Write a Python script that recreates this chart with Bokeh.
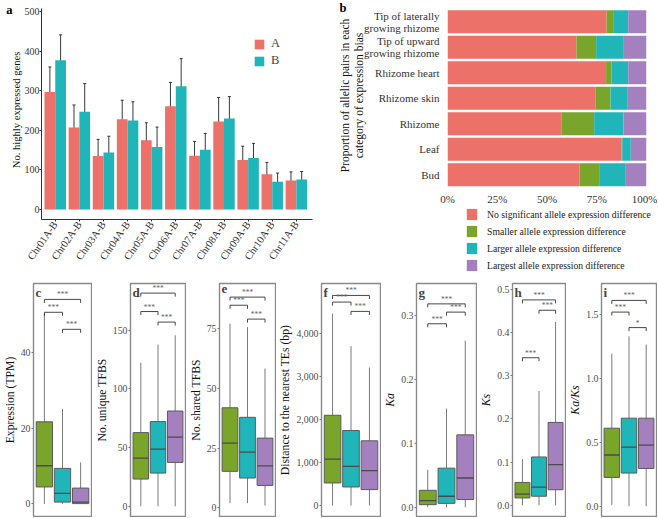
from bokeh.plotting import figure
from bokeh.models import (Range1d, FixedTicker, Legend, LegendItem, Label, LinearAxis,
                          NumeralTickFormatter, ColumnDataSource, Whisker, TeeHead)
from bokeh.transform import dodge
from bokeh.layouts import row, column
from bokeh.core.properties import value
from bokeh.embed import file_html
from bokeh.resources import INLINE

SERIF = "Liberation Serif"
RED, GREEN, TEAL, PURPLE = "#EC7169", "#78A52A", "#20B6B9", "#A580BE"

# ---------------- panel a data ----------------
chromosomes = ["Chr01A-B", "Chr02A-B", "Chr03A-B", "Chr04A-B", "Chr05A-B", "Chr06A-B",
               "Chr07A-B", "Chr08A-B", "Chr09A-B", "Chr10A-B", "Chr11A-B"]
genes_A = [297, 207, 135, 228, 175, 261, 136, 222, 125, 89, 73]
genes_A_low = [236, 150, 94, 180, 131, 200, 98, 162, 92, 59, 52]
genes_A_high = [360, 264, 177, 276, 219, 321, 172, 283, 160, 119, 95]
genes_B = [377, 247, 144, 225, 158, 311, 151, 230, 130, 70, 76]
genes_B_low = [311, 179, 103, 177, 110, 242, 108, 177, 94, 48, 56]
genes_B_high = [441, 318, 185, 272, 208, 381, 192, 285, 167, 92, 96]
a_yticks = [0, 100, 200, 300, 400, 500]

# ---------------- panel b data ----------------
tissues = ["Tip of laterally\ngrowing rhizome", "Tip of upward\ngrowing rhizome",
           "Rhizome heart", "Rhizome skin", "Rhizome", "Leaf", "Bud"]
no_sig = [79.9, 64.8, 79.7, 74.5, 57.2, 87.5, 66.4]
smaller = [3.7, 9.9, 2.7, 7.4, 16.5, 0.3, 9.8]
larger = [7.2, 13.9, 8.4, 8.7, 14.7, 4.3, 13.4]
largest = [9.2, 11.4, 9.2, 9.4, 11.6, 7.9, 10.4]
bias_names = ["No significant allele expression difference",
              "Smaller allele expression difference",
              "Larger allele expression difference",
              "Largest allele expression difference"]
b_xticks = [0, 0.25, 0.5, 0.75, 1.0]

# ---------------- panels c-i data (box statistics) ----------------
expr_stats = dict(low=[0, 0, 0], q1=[4.5, 0.5, 0.1], med=[10.1, 2.8, 0.5],
                  q3=[21.7, 9.4, 4.2], high=[50.3, 25.1, 11.0])
expr_sig = dict(y=[54.0, 50.6, 46.1], txt=["***", "***", "***"])
utfbs_stats = dict(low=[0, 0, 0], q1=[23.2, 28.3, 37.4], med=[41.0, 48.7, 58.9],
                   q3=[62.8, 72.2, 81.2], high=[122.5, 137.8, 145.8])
utfbs_sig = dict(y=[181.7, 166.0, 157.0], txt=["***", "***", "***"])
stfbs_stats = dict(low=[2, 2, 1], q1=[15.3, 12.5, 9.4], med=[27.1, 23.3, 17.6],
                   q3=[41.9, 37.9, 29.2], high=[77.1, 75.7, 58.3])
stfbs_sig = dict(y=[88.2, 84.8, 79.0], txt=["***", "***", "***"])
te_stats = dict(low=[0, 0, 0], q1=[525, 432, 371], med=[1081, 911, 811],
                q3=[2100, 1745, 1506], high=[4463, 3707, 3212])
te_sig = dict(y=[4888, 4734, 4517], txt=["***", "***", "***"])
ka_stats = dict(low=[0, 0, 0], q1=[0.0040, 0.0060, 0.0120], med=[0.0104, 0.0171, 0.0456],
                q3=[0.0264, 0.0610, 0.1130], high=[0.0585, 0.1540, 0.2600])
ka_sig = dict(y=[0.3176, 0.2865, 0.3047], txt=["***", "***", "***"])
ks_stats = dict(low=[0, 0, 0], q1=[0.017, 0.021, 0.036], med=[0.026, 0.042, 0.094],
                q3=[0.053, 0.112, 0.192], high=[0.107, 0.265, 0.425])
ks_sig = dict(y=[0.476, 0.342, 0.452], txt=["***", "***", "***"])
kaks_stats = dict(low=[0.01, 0, 0], q1=[0.225, 0.259, 0.295], med=[0.400, 0.461, 0.477],
                  q3=[0.609, 0.687, 0.687], high=[1.190, 1.326, 1.262])
kaks_sig = dict(y=[1.606, 1.515, 1.394], txt=["***", "***", "*"])
sig_pairs_x0 = [1, 1, 2]
sig_pairs_x1 = [3, 2, 3]


def base_fig(w, h, **kw):
    p = figure(width=w, height=h, output_backend="svg", toolbar_location=None, **kw)
    p.grid.visible = False
    p.background_fill_color = "white"
    p.border_fill_color = "white"
    return p


def no_minor(ax):
    ax.minor_tick_line_color = None
    ax.minor_tick_out = 0
    ax.minor_tick_in = 0


def letter_axis(tick, letter, size, standoff):
    ax = LinearAxis(ticker=FixedTicker(ticks=[tick]), major_label_overrides={tick: letter})
    ax.axis_line_color = None
    ax.major_tick_line_color = None
    ax.major_tick_out = 0
    ax.major_tick_in = 0
    no_minor(ax)
    ax.axis_label_standoff = 0
    ax.major_label_standoff = standoff
    ax.major_label_text_font = SERIF
    ax.major_label_text_font_style = "bold"
    ax.major_label_text_font_size = size
    ax.major_label_text_color = "black"
    return ax


# ================= panel a =================
pa = base_fig(330, 280, x_range=Range1d(0.43, 11.67), y_range=Range1d(-25.3, 527.8),
              min_border_left=41, min_border_right=18, min_border_top=0, min_border_bottom=61)
pa.outline_line_color = None
src_a = ColumnDataSource(dict(x=list(range(1, len(chromosomes) + 1)), A=genes_A, A_lo=genes_A_low,
                              A_hi=genes_A_high, B=genes_B, B_lo=genes_B_low, B_hi=genes_B_high))
ra = pa.vbar(x=dodge("x", -0.2225, range=pa.x_range), top="A", bottom=0, width=0.445,
             source=src_a, fill_color=RED, line_color=None)
rb = pa.vbar(x=dodge("x", 0.2225, range=pa.x_range), top="B", bottom=0, width=0.445,
             source=src_a, fill_color=TEAL, line_color=None)
for off, lo, hi in [(-0.2225, "A_lo", "A_hi"), (0.2225, "B_lo", "B_hi")]:
    w = Whisker(source=src_a, base=dodge("x", off, range=pa.x_range), lower=lo, upper=hi,
                line_color="#222222", line_width=0.9,
                upper_head=TeeHead(size=3, line_color="#222222", line_width=0.9),
                lower_head=TeeHead(size=3, line_color="#222222", line_width=0.9))
    pa.add_layout(w)
pa.xaxis.ticker = FixedTicker(ticks=list(range(1, len(chromosomes) + 1)))
pa.xaxis.major_label_overrides = {i + 1: c for i, c in enumerate(chromosomes)}
pa.xaxis.major_label_orientation = 0.96
pa.yaxis.ticker = FixedTicker(ticks=a_yticks)
pa.yaxis.bounds = (-25.3, 507)
pa.yaxis.axis_label = "No. highly expressed genes"
for ax in (pa.xaxis[0], pa.yaxis[0]):
    ax.axis_line_color = "#333333"
    ax.axis_line_width = 1
    ax.major_tick_line_color = "#333333"
    ax.major_tick_out = 2
    ax.major_tick_in = 0
    no_minor(ax)
    ax.major_label_text_font = SERIF
    ax.major_label_text_font_size = "10.5px"
    ax.major_label_text_color = "#333333"
    ax.major_label_standoff = 1
    ax.axis_label_text_font = SERIF
    ax.axis_label_text_font_size = "11px"
    ax.axis_label_text_font_style = "normal"
    ax.axis_label_text_color = "#111111"
    ax.axis_label_standoff = 2
pa.yaxis.major_label_text_font_size = "10px"
pa.yaxis.major_label_standoff = 0
pa.yaxis.axis_label_standoff = 0
pa.yaxis.axis_label_text_font_size = "10.6px"
pa.add_layout(letter_axis(515.4, "a", "12.5px", -5), "left")
leg_a = Legend(items=[LegendItem(label="A", renderers=[ra]), LegendItem(label="B", renderers=[rb])],
               location=(212, 151), glyph_width=12, glyph_height=12, label_height=12,
               spacing=2, padding=0, margin=0, label_standoff=6,
               label_text_font=SERIF, label_text_font_size="12.5px",
               border_line_color=None, background_fill_alpha=0)
pa.add_layout(leg_a)

# ================= panel b =================
totals = [a + b + c + d for a, b, c, d in zip(no_sig, smaller, larger, largest)]
src_b = ColumnDataSource(dict(
    y=[len(tissues) - i for i in range(len(tissues))],
    no_sig=[v / t for v, t in zip(no_sig, totals)],
    smaller=[v / t for v, t in zip(smaller, totals)],
    larger=[v / t for v, t in zip(larger, totals)],
    largest=[v / t for v, t in zip(largest, totals)]))
stack_cols = ["no_sig", "smaller", "larger", "largest"]
stack_colors = [RED, GREEN, TEAL, PURPLE]

pb = base_fig(327, 207, x_range=Range1d(0, 1), y_range=Range1d(0.383, 7.83),
              min_border_left=117, min_border_right=11, min_border_top=0, min_border_bottom=14)
pb.outline_line_color = None
pb.hbar_stack(stack_cols, y="y", height=0.9, color=stack_colors, line_color=None, source=src_b)
pb.xaxis.ticker = FixedTicker(ticks=b_xticks)
pb.xaxis.formatter = NumeralTickFormatter(format="0%")
pb.yaxis.ticker = FixedTicker(ticks=[len(tissues) - i for i in range(len(tissues))])
pb.yaxis.major_label_overrides = {len(tissues) - i: t for i, t in enumerate(tissues)}
pb.yaxis.axis_label = "Proportion of allelic pairs in each\ncategory of expression bias"
for ax in (pb.xaxis[0], pb.yaxis[0]):
    ax.axis_line_color = None
    ax.major_tick_line_color = None
    ax.major_tick_out = 0
    ax.major_tick_in = 0
    no_minor(ax)
    ax.major_label_text_font = SERIF
    ax.major_label_text_color = "#333333"
    ax.axis_label_text_font = SERIF
    ax.axis_label_text_font_size = "11.5px"
    ax.axis_label_text_font_style = "normal"
    ax.axis_label_text_color = "#111111"
    ax.axis_label_standoff = 0
    ax.axis_label_text_line_height = 1.2
pb.xaxis.major_label_text_font_size = "11px"
pb.xaxis.major_label_standoff = 2
pb.yaxis.major_label_text_font_size = "11px"
pb.yaxis.major_label_standoff = 8
pb.yaxis.axis_label_standoff = -4
pb.yaxis.major_label_text_line_height = 1.0
pb.add_layout(letter_axis(7.571, "b", "12.5px", -11), "left")

# legend of panel b (own canvas below the bars; same series, shown only as legend keys)
pleg = base_fig(327, 73, x_range=Range1d(0, 1), y_range=Range1d(10, 11),
                x_axis_location=None, y_axis_location=None,
                min_border_left=0, min_border_right=0, min_border_top=0, min_border_bottom=0)
pleg.outline_line_color = None
rs_leg = pleg.hbar_stack(stack_cols, y="y", height=0.9, color=stack_colors, line_color=None,
                         source=src_b)
leg_b = Legend(items=[LegendItem(label=n, renderers=[r]) for n, r in zip(bias_names, rs_leg)],
               location=(135, 8), glyph_width=13, glyph_height=14, label_height=14,
               spacing=3, padding=0, margin=0, label_standoff=9,
               label_text_font=SERIF, label_text_font_size="9.7px",
               label_text_color="#222222",
               border_line_color=None, background_fill_alpha=0)
pleg.add_layout(leg_b)


# ================= panels c-i =================
FONT_V = value(SERIF)


def box_panel(letter, width, left, stats, sig, ylim, ticks, fmt, ylabel, italic=False):
    p = base_fig(width, 237, x_range=Range1d(0.4, 3.6), y_range=Range1d(*ylim),
                 min_border_left=left, min_border_right=1, min_border_top=3, min_border_bottom=1)
    p.outline_line_color = "#8a8a8a"
    p.outline_line_width = 1.4
    src = ColumnDataSource(dict(x=[1, 2, 3], color=[GREEN, TEAL, PURPLE], **stats))
    p.segment(x0="x", y0="low", x1="x", y1="q1", source=src, line_color="#7a7a7a", line_width=1)
    p.segment(x0="x", y0="q3", x1="x", y1="high", source=src, line_color="#7a7a7a", line_width=1)
    p.vbar(x="x", bottom="q1", top="q3", width=0.9, source=src, fill_color="color",
           line_color="#5a5a5a", line_width=1)
    p.segment(x0=dodge("x", -0.45), y0="med", x1=dodge("x", 0.45), y1="med", source=src,
              line_color="#4a4a4a", line_width=1.3)
    span = ylim[1] - ylim[0]
    drop = 3.5 * span / 233
    xs, ys, tx, ty = [], [], [], []
    for x0, x1, yb in zip(sig_pairs_x0, sig_pairs_x1, sig["y"]):
        xs.append([x0, x0, x1, x1])
        ys.append([yb - drop, yb, yb, yb - drop])
        tx.append((x0 + x1) / 2)
        ty.append(yb)
    p.multi_line(xs=xs, ys=ys, line_color="#333333", line_width=0.9)
    p.text(x=tx, y=ty, text=sig["txt"], text_font=FONT_V, text_font_size="7.5px",
           text_color="#666666", text_align="center", text_baseline="bottom")
    p.xaxis.visible = False
    ax = p.yaxis[0]
    ax.ticker = FixedTicker(ticks=ticks)
    if fmt:
        ax.formatter = NumeralTickFormatter(format=fmt)
    ax.axis_line_color = None
    ax.major_tick_line_color = "#7a7a7a"
    ax.major_tick_out = 2
    ax.major_tick_in = 0
    no_minor(ax)
    ax.major_label_text_font = SERIF
    ax.major_label_text_font_size = "9.8px"
    ax.major_label_text_color = "#4d4d4d"
    ax.major_label_standoff = 1
    ax.axis_label = ylabel
    ax.axis_label_text_font = SERIF
    ax.axis_label_text_font_size = "11.7px"
    ax.axis_label_text_font_style = "italic" if italic else "normal"
    ax.axis_label_text_color = "#111111"
    ax.axis_label_standoff = 1
    p.add_layout(Label(x=0.4, y=ylim[1], x_offset=2, y_offset=-1, text=letter, text_font=SERIF,
                       text_font_style="bold", text_font_size="13px", text_baseline="top"))
    return p


pc = box_panel("c", 92, 29, expr_stats, expr_sig, (-3.3, 58.2), [0, 20, 40], None,
               "Expression (TPM)")
pd_ = box_panel("d", 94, 32, utfbs_stats, utfbs_sig, (-8.7, 189.9), [0, 50, 100, 150], None,
                "No. unique TFBS")
pe = box_panel("e", 90, 27, stfbs_stats, stfbs_sig, (-3.6, 93.9), [0, 25, 50, 75], None,
               "No. shared TFBS")
pf = box_panel("f", 105, 44, te_stats, te_sig, (-255, 5166), [0, 1000, 2000, 3000, 4000],
               "0,0", "Distance to the nearest TEs (bp)")
pg = box_panel("g", 96, 32, ka_stats, ka_sig, (-0.0145, 0.3494), [0, 0.1, 0.2, 0.3], "0.0",
               "Ka", italic=True)
ph = box_panel("h", 89, 26, ks_stats, ks_sig, (-0.026, 0.514), [0, 0.1, 0.2, 0.3, 0.4, 0.5],
               "0.0", "Ks", italic=True)
pi = box_panel("i", 91, 27, kaks_stats, kaks_sig, (-0.08, 1.738), [0, 0.5, 1.0, 1.5], "0.0",
               "Ka/Ks", italic=True)

top = row(column(pa), column(column(pb), column(pleg)))
layout = column(top, row(pc, pd_, pe, pf, pg, ph, pi))
open("out.html", "w").write(file_html(layout, INLINE))
